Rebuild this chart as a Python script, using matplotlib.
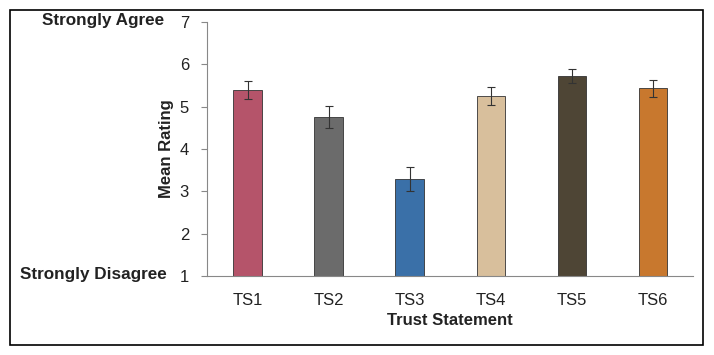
import matplotlib.pyplot as plt
from matplotlib.patches import Rectangle

plt.rcParams['font.family'] = ['Liberation Sans', 'DejaVu Sans']

statements = ["TS1", "TS2", "TS3", "TS4", "TS5", "TS6"]
means = [5.40, 4.76, 3.29, 5.26, 5.73, 5.43]
errors = [0.21, 0.26, 0.29, 0.21, 0.16, 0.20]
colors = ["#b5546a", "#6b6b6b", "#3a70a8", "#d8bf9c", "#4e4535", "#c8782e"]

fig = plt.figure(figsize=(7.14, 3.55), dpi=100)
ax = fig.add_axes([0.29, 0.2225, 0.681, 0.7155])

x = range(len(statements))
ax.bar(x, [m - 1 for m in means], bottom=1, width=0.35, color=colors,
       edgecolor="#333333", linewidth=0.6,
       yerr=errors, error_kw=dict(ecolor="#333333", elinewidth=0.8, capsize=3, capthick=0.8))

ax.set_ylim(1, 7)
ax.set_xlim(-0.5, len(statements) - 0.5)
ax.set_yticks(range(1, 8))
ax.set_xticks(list(x))
ax.set_xticklabels(statements)
ax.tick_params(axis="x", length=0, labelsize=12, colors="#222222", pad=12)
ax.tick_params(axis="y", length=4, color="#888888", labelsize=12, labelcolor="#222222", pad=9)
for s in ["top", "right"]:
    ax.spines[s].set_visible(False)
for s in ["left", "bottom"]:
    ax.spines[s].set_color("#888888")
    ax.spines[s].set_linewidth(0.8)

ax.set_ylabel("Mean Rating", fontsize=12, fontweight="bold", color="#222222", labelpad=4)
ax.set_xlabel("Trust Statement", fontsize=12, fontweight="bold", color="#222222", labelpad=4)

fig.text(42 / 714, 1 - 20 / 355, "Strongly Agree", fontsize=12.3, fontweight="bold",
         color="#222222", va="center", ha="left")
fig.text(20 / 714, 1 - 274 / 355, "Strongly Disagree", fontsize=12.3, fontweight="bold",
         color="#222222", va="center", ha="left")

# selection frame around the chart
fig.patches.append(Rectangle((10 / 714, 10 / 355), 693 / 714, 335 / 355,
                             transform=fig.transFigure, fill=False,
                             edgecolor="black", linewidth=1.2))

fig.savefig("out.png", dpi=100)
